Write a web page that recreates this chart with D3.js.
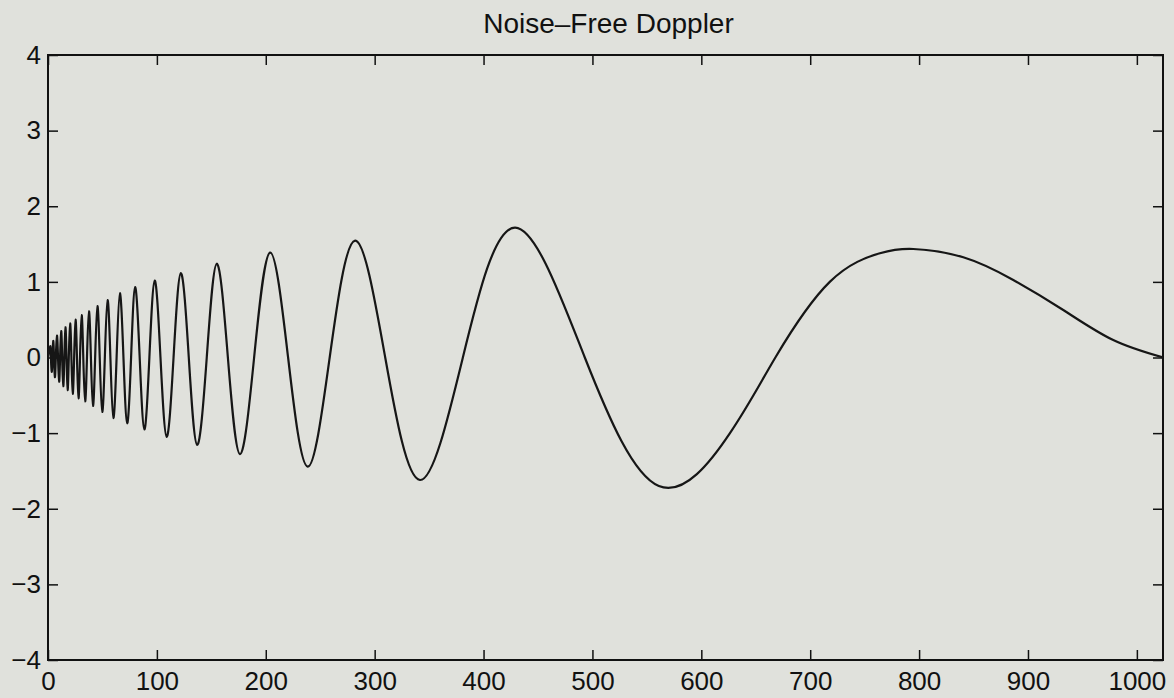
<!DOCTYPE html>
<html>
<head>
<meta charset="utf-8">
<script src="https://cdn.jsdelivr.net/npm/d3@7"></script>
<style>
  html, body { margin: 0; padding: 0; background: #e0e1dc; }
  svg { display: block; }
  text { font-family: "Liberation Sans", Arial, Helvetica, sans-serif; fill: #111; }
</style>
</head>
<body>
<svg id="chart" width="1174" height="698"></svg>
<script>
// ---- data ----
const titleText = "Noise\u2013Free Doppler";
const xTicks = [0, 100, 200, 300, 400, 500, 600, 700, 800, 900, 1000];
const yTicks = [-4, -3, -2, -1, 0, 1, 2, 3, 4];
const xDomain = [0, 1024];
const yDomain = [-4, 4];

// sample positions (index) and signal values: extrema, zero crossings and tail shape points
const sampleX = [
  0, 2.0, 2.7, 3.4, 4.1, 4.8, 5.5, 6.3, 7.2, 8.2, 9.2, 10.2, 11.1, 12.1, 13.0, 14.0,
  15.0, 16.0, 17.0, 18.0, 19.1, 20.3, 21.5, 22.7, 24.0, 25.3, 26.6, 28.0, 29.4, 30.9,
  32.4, 34.1, 35.8, 37.6, 39.4, 41.3, 43.3, 45.4, 47.5, 49.8, 52.2, 54.7, 57.3, 60.0,
  63.0, 66.0, 69.3, 72.7, 76.3, 80.0, 84.2, 88.5, 93.1, 98.0, 103.3, 109.0, 115.3,
  122.0, 129.3, 137.0, 145.8, 155.0, 165.2, 176.3, 189.3, 204.0, 220.5, 238.5, 258.7,
  282.0, 309.7, 341.6, 381, 429, 493, 561,
  626.3, 668, 718.2, 764, 794.7, 840.6, 886.5, 932.4, 978.3, 1024
];
const sampleY = [
  0, 0.15, 0, -0.19, 0, 0.22, 0, -0.26, 0, 0.29, 0, -0.32, 0, 0.35, 0, -0.38,
  0, 0.40, 0, -0.43, 0, 0.45, 0, -0.48, 0, 0.50, 0, -0.54, 0, 0.56,
  0, -0.58, 0, 0.61, 0, -0.64, 0, 0.68, 0, -0.72, 0, 0.76, 0, -0.80,
  0, 0.85, 0, -0.87, 0, 0.93, 0, -0.95, 0, 1.016, 0, -1.05, 0,
  1.115, 0, -1.155, 0, 1.24, 0, -1.277, 0, 1.386, 0, -1.444, 0,
  1.545, 0, -1.62, 0, 1.717, 0, -1.70,
  -1.0, 0, 1.003, 1.378, 1.435, 1.325, 1.025, 0.628, 0.23, 0
];

// ---- layout ----
const svg = d3.select("#chart");
const W = 1174, H = 698;
const plot = { left: 48, right: 1163, top: 55, bottom: 660 };

svg.append("rect").attr("width", W).attr("height", H).attr("fill", "#e0e1dc");

const x = d3.scaleLinear().domain(xDomain).range([plot.left, plot.right]);
const y = d3.scaleLinear().domain(yDomain).range([plot.bottom, plot.top]);

svg.append("defs").append("clipPath").attr("id", "clip")
  .append("rect")
  .attr("x", plot.left).attr("y", plot.top)
  .attr("width", plot.right - plot.left).attr("height", plot.bottom - plot.top);

const fmt = d => (d < 0 ? "\u2212" + Math.abs(d) : String(d));
const fontSize = 26;

function styleAxis(g) {
  g.select(".domain").remove();
  g.selectAll(".tick line").attr("stroke", "#111").attr("stroke-width", 1.5);
  g.selectAll(".tick text").attr("font-size", fontSize).attr("fill", "#111")
    .style("font-family", '"Liberation Sans", Arial, Helvetica, sans-serif');
}

svg.append("g").attr("transform", `translate(0,${plot.bottom})`)
  .call(d3.axisBottom(x).tickValues(xTicks).tickSize(-10).tickPadding(12).tickFormat(fmt))
  .call(styleAxis);
svg.append("g").attr("transform", `translate(0,${plot.top})`)
  .call(d3.axisTop(x).tickValues(xTicks).tickSize(-10).tickFormat(""))
  .call(styleAxis);
svg.append("g").attr("transform", `translate(${plot.left},0)`)
  .call(d3.axisLeft(y).tickValues(yTicks).tickSize(-10).tickPadding(7).tickFormat(fmt))
  .call(styleAxis);
svg.append("g").attr("transform", `translate(${plot.right},0)`)
  .call(d3.axisRight(y).tickValues(yTicks).tickSize(-10).tickFormat(""))
  .call(styleAxis);

// frame
svg.append("rect")
  .attr("x", plot.left).attr("y", plot.top)
  .attr("width", plot.right - plot.left).attr("height", plot.bottom - plot.top)
  .attr("fill", "none").attr("stroke", "#111").attr("stroke-width", 2);

// signal
const n = Math.min(sampleX.length, sampleY.length);
const pts = d3.range(n).map(i => [sampleX[i], sampleY[i]]);
const line = d3.line().x(d => x(d[0])).y(d => y(d[1])).curve(d3.curveNatural);
svg.append("path").datum(pts)
  .attr("clip-path", "url(#clip)")
  .attr("d", line)
  .attr("fill", "none").attr("stroke", "#161616").attr("stroke-width", 2.2)
  .attr("stroke-linejoin", "round");

// title
svg.append("text")
  .attr("x", (plot.left + plot.right) / 2 + 3).attr("y", 33)
  .attr("text-anchor", "middle").attr("font-size", 28)
  .text(titleText);
</script>
</body>
</html>
